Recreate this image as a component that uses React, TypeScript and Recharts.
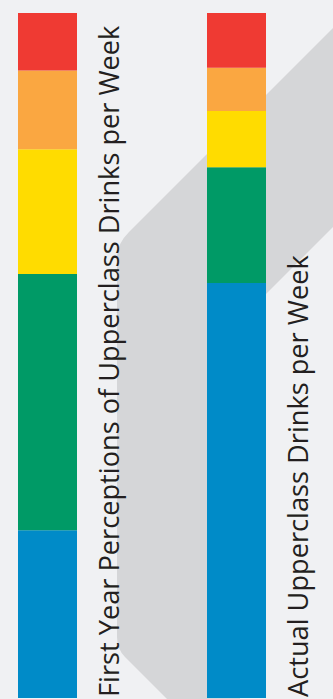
import React from "react";
import { BarChart, Bar, XAxis, YAxis, LabelList } from "recharts";

const categories = [
  "First Year Perceptions of Upperclass Drinks per Week",
  "Actual Upperclass Drinks per Week",
];
const blueValues = [24.5, 60.6];
const greenValues = [37.4, 16.9];
const yellowValues = [18.2, 8.2];
const orangeValues = [11.5, 6.3];
const redValues = [8.4, 8.0];

const data = categories.map((name, i) => ({
  name,
  blue: blueValues[i],
  green: greenValues[i],
  yellow: yellowValues[i],
  orange: orangeValues[i],
  red: redValues[i],
}));

const COLORS = {
  blue: "#008BC8",
  green: "#009A66",
  yellow: "#FFDC00",
  orange: "#FAA741",
  red: "#EF3A33",
};

const renderLabel = (props: any) => {
  const { x, y, width, height, value } = props;
  const bx = Number(x) + Number(width) + 41.5;
  const by = Number(y) + Number(height) - 1;
  return (
    <text
      transform={`translate(${bx}, ${by}) rotate(-90)`}
      fill="#231F20"
      fontFamily="'Open Sans', sans-serif"
      fontSize={27.2}
      textAnchor="start"
    >
      {value}
    </text>
  );
};

export default function App() {
  return (
    <div
      style={{
        position: "relative",
        width: 333,
        height: 699,
        overflow: "hidden",
        background: "#F0F1F3",
      }}
    >
      <style>{`body{margin:0;}`}</style>
      <svg
        width={333}
        height={699}
        style={{ position: "absolute", left: 0, top: 0 }}
      >
        <path
          d="M 340 21 L 129 232 Q 117 244 117 258 L 117 637 Q 117 649 125 657 L 170 702 L 240 702 L 240 320 L 340 220 Z"
          fill="#D5D6D8"
        />
      </svg>
      <div style={{ position: "absolute", left: -47, top: 0 }}>
        <BarChart
          width={380}
          height={699}
          data={data}
          margin={{ top: 13, right: 2, bottom: 1, left: 0 }}
          barCategoryGap={0}
        >
          <XAxis dataKey="name" hide />
          <YAxis hide domain={[0, 100]} />
          <Bar dataKey="blue" stackId="a" fill={COLORS.blue} barSize={59} isAnimationActive={false}>
            <LabelList dataKey="name" content={renderLabel} />
          </Bar>
          <Bar dataKey="green" stackId="a" fill={COLORS.green} barSize={59} isAnimationActive={false} />
          <Bar dataKey="yellow" stackId="a" fill={COLORS.yellow} barSize={59} isAnimationActive={false} />
          <Bar dataKey="orange" stackId="a" fill={COLORS.orange} barSize={59} isAnimationActive={false} />
          <Bar dataKey="red" stackId="a" fill={COLORS.red} barSize={59} isAnimationActive={false} />
        </BarChart>
      </div>
    </div>
  );
}
